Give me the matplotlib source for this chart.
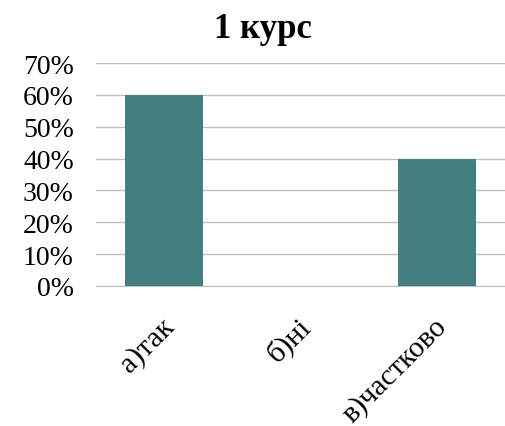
import matplotlib
matplotlib.use("Agg")
import matplotlib.pyplot as plt
import matplotlib.transforms as mtransforms
from matplotlib.ticker import PercentFormatter

categories = ["а)так", "б)ні", "в)частково"]
values = [0.60, 0.0, 0.40]
yticks = [0, 0.1, 0.2, 0.3, 0.4, 0.5, 0.6, 0.7]

plt.rcParams['font.family'] = ['Liberation Serif', 'DejaVu Serif']

fig = plt.figure(figsize=(5.06, 4.27), dpi=100)
ax = fig.add_axes([0.19, 0.328, 0.808, 0.522])

ax.bar(categories, values, width=0.57, color='#437E80', zorder=3)

ax.set_ylim(0, 0.7)
ax.set_xlim(-0.5, 2.5)
ax.set_yticks(yticks)
ax.yaxis.set_major_formatter(PercentFormatter(1.0, decimals=0))
ax.grid(axis='y', color='#BFBFBF', linewidth=1, zorder=0)

for s in ['top', 'right', 'left']:
    ax.spines[s].set_visible(False)
ax.spines['bottom'].set_color('#BFBFBF')
ax.tick_params(axis='both', length=0, labelsize=20)
ax.tick_params(axis='y', pad=16)
ax.tick_params(axis='x', pad=19)
offset = mtransforms.ScaledTranslation(-4 / 100, 0, fig.dpi_scale_trans)
for lbl in ax.get_xticklabels():
    lbl.set_rotation(45)
    lbl.set_ha('right')
    lbl.set_rotation_mode('anchor')
    lbl.set_fontsize(21.5)
    lbl.set_transform(lbl.get_transform() + offset)

fig.suptitle("1 курс", x=0.52, y=0.97, fontsize=25, fontweight='bold')

fig.savefig("out.png", dpi=100)
